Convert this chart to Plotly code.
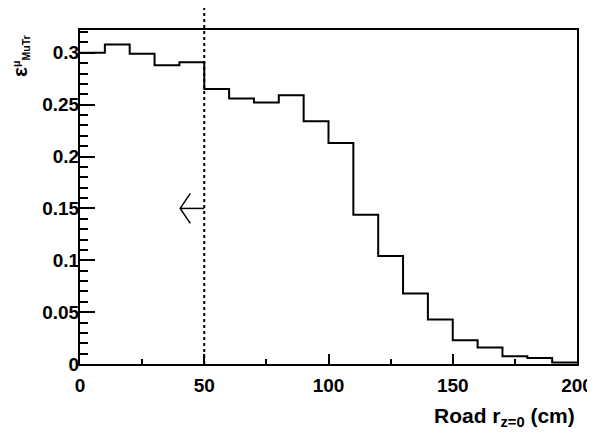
import plotly.graph_objects as go

# efficiency vs road radius, 10 cm bins
bin_edges = [0, 10, 20, 30, 40, 50, 60, 70, 80, 90, 100,
             110, 120, 130, 140, 150, 160, 170, 180, 190, 200]
eff = [0.300, 0.308, 0.299, 0.288, 0.291, 0.265, 0.256, 0.252, 0.259, 0.234,
       0.213, 0.144, 0.104, 0.068, 0.043, 0.023, 0.016, 0.0075, 0.0058, 0.0015]

y_tickvals = [0, 0.05, 0.1, 0.15, 0.2, 0.25, 0.3]
y_ticktext = ["0", "0.05", "0.1", "0.15", "0.2", "0.25", "0.3"]
x_tickvals = [0, 50, 100, 150, 200]
x_ticktext = ["0", "50", "100", "150", "200"]

CUT_R = 50
ARROW_Y = 0.15
ARROW_TIP = 40.3
ARROW_BACK = 44.4
ARROW_HALF = 0.0145

FONT = "Liberation Sans"

fig = go.Figure()

# step histogram
fig.add_trace(go.Scatter(
    x=bin_edges,
    y=eff + [eff[-1]],
    mode="lines",
    line=dict(shape="hv", color="black", width=2),
    showlegend=False,
))

# arrow pointing to the accepted side of the cut
fig.add_trace(go.Scatter(
    x=[CUT_R, ARROW_TIP, None, ARROW_BACK, ARROW_TIP, ARROW_BACK],
    y=[ARROW_Y, ARROW_Y, None, ARROW_Y + ARROW_HALF, ARROW_Y, ARROW_Y - ARROW_HALF],
    mode="lines",
    line=dict(color="black", width=1.5),
    showlegend=False,
))

# dotted cut line, runs past the top of the frame
fig.add_shape(type="line", xref="x", yref="paper", x0=CUT_R, x1=CUT_R, y0=0, y1=1.09,
              line=dict(color="black", width=2, dash="dot"))

fig.update_xaxes(
    range=[0, 200], showline=True, linecolor="black", linewidth=2, mirror=True,
    ticks="inside", ticklen=10, tickwidth=2, tickcolor="black",
    tickvals=x_tickvals, ticktext=x_ticktext, automargin=False,
    minor=dict(ticks="inside", ticklen=5, tickwidth=2, tickcolor="black", dtick=25, tick0=0),
    showgrid=False, zeroline=False, ticklabelstandoff=3,
    tickfont=dict(family=FONT, size=19, color="black", weight="bold"),
)
fig.update_yaxes(
    range=[0, 0.322], showline=True, linecolor="black", linewidth=2, mirror=True,
    ticks="inside", ticklen=15, tickwidth=2, tickcolor="black",
    tickvals=y_tickvals, ticktext=y_ticktext, automargin=False,
    minor=dict(ticks="inside", ticklen=8, tickwidth=2, tickcolor="black", dtick=0.01, tick0=0),
    showgrid=False, zeroline=False, ticklabelstandoff=-5,
    tickfont=dict(family=FONT, size=19, color="black", weight="bold"),
)

fig.add_annotation(
    text="Road r<sub>z=0</sub> (cm)", xref="paper", yref="paper",
    x=1.0, y=-0.16, xanchor="right", yanchor="middle", showarrow=False,
    font=dict(family=FONT, size=21, color="black", weight="bold"),
)
fig.add_annotation(
    text="<span style='font-size:21px'>ε</span><sup>μ</sup><sub>MuTr</sub>",
    xref="paper", yref="paper",
    x=-0.121, y=0.922, xanchor="center", yanchor="middle", textangle=-90, showarrow=False,
    font=dict(family=FONT, size=15, color="black", weight="bold"),
)

# page body has an 8px default margin, so the figure is sized to fit inside it
fig.update_layout(
    width=587, height=427,
    margin=dict(l=72, r=18, t=22, b=71),
    plot_bgcolor="white", paper_bgcolor="white",
)

fig.write_html("out.html")
